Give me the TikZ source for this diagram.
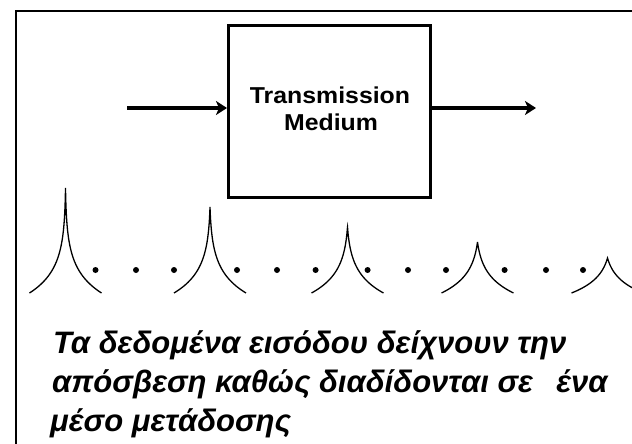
\documentclass[tikz,border=0pt]{standalone}
\usepackage{fontspec}
\setmainfont{Liberation Sans}
\usetikzlibrary{arrows.meta}
\begin{document}
\begin{tikzpicture}[x=1pt,y=-1pt,
  frame/.style={line width=2.2pt},
  medium/.style={draw, line width=3pt, minimum width=201.5pt, minimum height=171.5pt, inner sep=0pt},
  flow/.style={line width=4.5pt, -{Stealth[length=11pt,width=14pt,inset=3pt]}},
  boxtext/.style={anchor=base, inner sep=0pt, font=\fontsize{23}{26}\selectfont\bfseries},
  caption/.style={anchor=base west, inner sep=0pt, font=\fontsize{31}{36}\selectfont\bfseries\itshape},
  spike/.style={line width=1.3pt, line join=miter},
  dotmark/.style={fill=black, draw=none}
]
\useasboundingbox (0,0) rectangle (632,444);
\clip (0,0) rectangle (632,444);
% outer frame (continues beyond the picture)
\draw[frame] (16,470) -- (16,11) -- (660,11);
% transmission medium
\node[medium] (box) at (329.25,111.25) {};
\node[boxtext] (tm1) at (330,103) {\scalebox{1.08}[1]{Transmission}};
\node[boxtext] (tm2) at (331,130) {\scalebox{1.08}[1]{Medium}};
\coordinate (inL) at (127,108);
\coordinate (outR) at (536,108);
\draw[flow] (inL) -- (inL -| box.west);
\draw[flow] (outR -| box.east) -- (outR);
% attenuated pulses
\foreach \c/\h in {65.5/105, 210/86, 347.5/66, 477.5/51, 607.5/35}{
  \pgfmathsetmacro{\a}{\h/30+1}
  \draw[spike] plot[domain=0:1, samples=50, variable=\t]
      ({\c - 36*(exp(-\a*\t)-exp(-\a))/(1-exp(-\a))}, {293 - \h*\t})
    -- plot[domain=1:0, samples=50, variable=\t]
      ({\c + 36*(exp(-\a*\t)-exp(-\a))/(1-exp(-\a))}, {293 - \h*\t});
}
\foreach \x in {95.5,136,174,237,277,315.6,367.6,408,446,504.6,546,583}{
  \fill[dotmark] (\x,270) circle (3pt);
}
% caption
\node[caption] (t1) at (53,353) {Τα δεδομένα εισόδου δείχνουν την};
\node[caption] (t2) at (52,392) {απόσβεση καθώς διαδίδονται σε\hspace{0.75em}ένα};
\node[caption] (t3) at (50,431) {μέσο μετάδοσης};
\end{tikzpicture}
\end{document}
